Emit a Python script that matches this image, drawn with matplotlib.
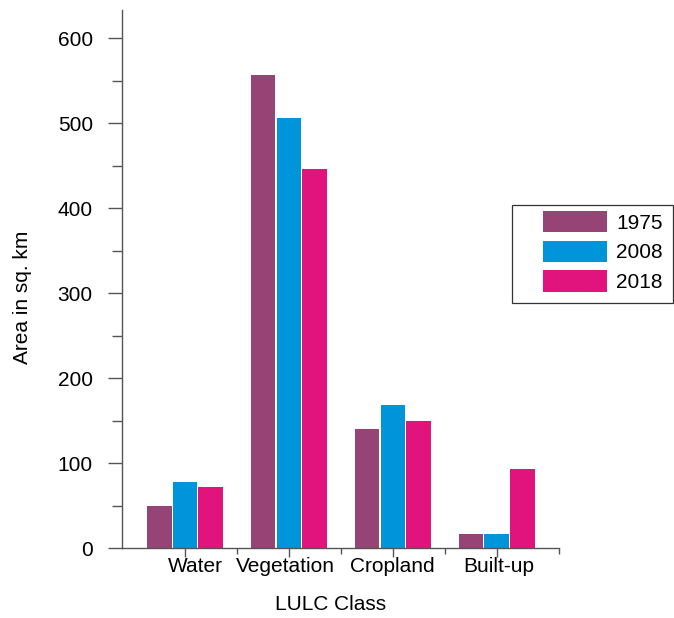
import matplotlib
matplotlib.use('Agg')
import matplotlib.pyplot as plt
from matplotlib.patches import Rectangle
import numpy as np

# LULC area per class (sq. km)
classes = ['Water', 'Vegetation', 'Cropland', 'Built-up']
years = ['1975', '2008', '2018']
area_1975 = [50, 556, 140, 17]
area_2008 = [78, 506, 168, 17]
area_2018 = [72, 446, 149, 93]
colors = ['#964475', '#0094DA', '#E0147C']

plt.rcParams['font.family'] = ['Liberation Sans', 'DejaVu Sans']
fs = 15
axis_color = '#555555'

W, H = 674, 618
fig = plt.figure(figsize=(W / 100, H / 100), dpi=100)
ax = fig.add_axes([122 / W, 1 - 548 / H, (559 - 122) / W, (548 - 10) / H])

x = np.arange(len(classes))
width = 0.235
step = 0.247
series = [area_1975, area_2008, area_2018]
for i, vals in enumerate(series):
    ax.bar(x + (i - 1) * step, vals, width, color=colors[i], label=years[i])

ax.set_xlim(-0.606, 3.6)
ax.set_ylim(0, 633)

# only left and bottom spines
for side in ['top', 'right']:
    ax.spines[side].set_visible(False)
for side in ['left', 'bottom']:
    ax.spines[side].set_color(axis_color)
    ax.spines[side].set_linewidth(1.0)

ax.set_yticks(range(0, 601, 100))
ax.set_yticks(range(50, 601, 100), minor=True)
ax.tick_params(axis='y', which='major', length=10, width=1.0, color=axis_color,
               labelsize=fs, pad=11)
ax.tick_params(axis='y', which='minor', length=7, width=1.0, color=axis_color)

# category ticks (long) and boundary ticks (short), labels drawn as text
ax.set_xticks(x)
ax.set_xticklabels([])
ax.set_xticks([0.5, 1.5, 2.5, 3.6], minor=True)
ax.tick_params(axis='x', which='major', length=6.5, width=1.0, color=axis_color)
ax.tick_params(axis='x', which='minor', length=4.5, width=1.0, color=axis_color)
label_pos = [0.1, -0.03, 0.0, 0.02]
for xi, name, dx in zip(x, classes, label_pos):
    ax.text(xi + dx, -0.016, name, transform=ax.get_xaxis_transform(),
            ha='center', va='top', fontsize=fs)

fig.text(22 / W, 1 - 297 / H, 'Area in sq. km', rotation=90,
         ha='center', va='center', fontsize=fs)
fig.text(331 / W, 1 - 605 / H, 'LULC Class', ha='center', va='center', fontsize=fs)

# legend box drawn separately so the padding matches
fig.patches.append(Rectangle((512 / W, 1 - 303 / H), (673 - 512) / W, (303 - 205) / H,
                             transform=fig.transFigure, fill=False,
                             edgecolor='#333333', linewidth=0.9))
handles, labels = ax.get_legend_handles_labels()
fig.legend(handles, labels, loc='upper left', bbox_to_anchor=(543 / W, 1 - 211 / H),
           fontsize=fs, handlelength=64 / 20.8, handleheight=1.2,
           labelspacing=0.38, borderpad=0, borderaxespad=0, handletextpad=0.45,
           frameon=False)

fig.savefig('out.png', dpi=100)
